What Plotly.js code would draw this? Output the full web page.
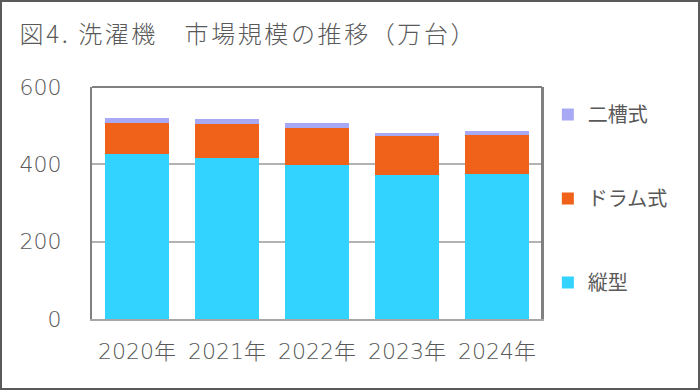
<!DOCTYPE html>
<html><head><meta charset="utf-8">
<script src="https://cdn.plot.ly/plotly-3.0.1.min.js"></script>
<style>
html,body{margin:0;padding:0;background:#fff;}
#wrap{width:700px;height:390px;box-sizing:border-box;border:2px solid #5a5a5a;position:relative;overflow:hidden;}
#chart{position:absolute;left:-2px;top:-2px;width:700px;height:390px;}
.gtitle{letter-spacing:2.6px;}
</style></head>
<body><div id="wrap"><div id="chart"></div></div>
<script>
const years = ['2020年','2021年','2022年','2023年','2024年'];
const tate = [428, 417, 399, 373, 374];
const drum = [78, 88, 95, 100, 103];
const niso = [15, 13, 13, 8, 9];
const seriesNames = ['縦型','ドラム式','二槽式'];
const yTicks = [0, 200, 400, 600];

const font = "'Noto Sans CJK JP', 'Noto Sans', sans-serif";
const numFont = "'DejaVu Sans', 'Noto Sans CJK JP', sans-serif";
const gray = '#595959';
const mk = (name, y, color, grp, rank) => ({
  type:'bar', name, x: years, y, legendgroup: grp, legendrank: rank,
  marker:{color, line:{width:0}}, hoverinfo:'y+name'
});
const data = [
  mk(seriesNames[0], tate, '#33D3FF', 'a', 3),
  mk(seriesNames[1], drum, '#F06119', 'b', 2),
  mk(seriesNames[2], niso, '#A7A9F4', 'c', 1)
];
const layout = {
  width:700, height:390,
  margin:{l:92, r:158, t:87, b:71},
  paper_bgcolor:'#fff', plot_bgcolor:'#fff',
  barmode:'stack', bargap:0.28,
  font:{family:font, color:gray, size:20},
  title:{text:'図4. 洗濯機　市場規模の推移（万台）', x:0.028, xanchor:'left', y:0.912, yanchor:'middle',
         font:{family:font, size:24, color:gray, weight:300}},
  xaxis:{showgrid:false, showline:true, linecolor:'#a6a6a6', linewidth:2, mirror:false,
         tickfont:{family:numFont, size:22, color:gray, weight:300}, ticks:'', ticklabelstandoff:12, fixedrange:true},
  yaxis:{range:[0,600], tickvals:yTicks, showgrid:true, gridcolor:'#b3b3b3', gridwidth:2,
         showline:true, linecolor:'#808080', linewidth:2, mirror:true, zeroline:false,
         tickfont:{family:numFont, size:22, color:gray, weight:300}, ticks:'', ticklabelstandoff:24, fixedrange:true},
  shapes:[
    {type:'line', xref:'paper', yref:'paper', x0:1, x1:1, y0:0, y1:1, line:{color:'#808080', width:2}},
    {type:'line', xref:'paper', yref:'paper', x0:0, x1:1, y0:1, y1:1, line:{color:'#808080', width:2}}
  ],
  legend:{x:1.013, y:0.965, xanchor:'left', yanchor:'top', traceorder:'grouped',
          tracegroupgap:55, font:{size:20, color:gray}, itemwidth:30},
  showlegend:true
};
Plotly.newPlot('chart', data, layout, {displayModeBar:false, staticPlot:true});
</script></body></html>
